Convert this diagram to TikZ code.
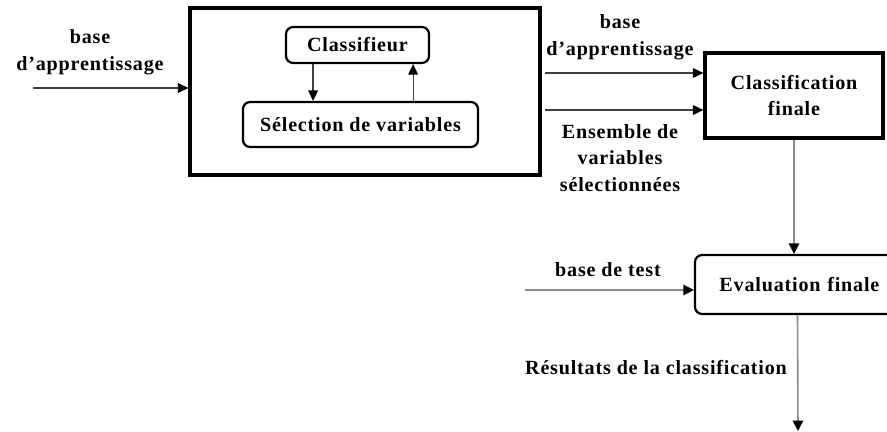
\documentclass[tikz,border=0pt]{standalone}
\usepackage{fontspec}
\setmainfont{Liberation Serif}[LetterSpace=4]
\usetikzlibrary{positioning, arrows.meta}

\begin{document}
\begin{tikzpicture}
    [
        x=0.025cm, y=-0.025cm, auto,
        every node/.style={font=\bfseries\fontsize{14.3pt}{19pt}\selectfont, align=center},
        big_box/.style={rectangle, draw=black, line width=0.8mm, minimum width=8.75cm, minimum height=4.175cm},
        round_box/.style={rectangle, rounded corners=1.8mm, draw=black, line width=0.55mm},
        flow_arrow/.style={-{Triangle[length=2.6mm, width=2.4mm, color=black]}, line width=0.3mm, color=black!75},
        grey_arrow/.style={-{Triangle[length=2.6mm, width=2.6mm, color=black]}, line width=0.4mm, color=black!45},
    ]
        \clip (0,0) rectangle (887,432) ;
        % selection de variables
        \node[big_box] (learn) at (365,91.5) {} ;
        \node[round_box, minimum width=3.575cm, minimum height=0.9cm] (clf) at (357.5,45) {Classifieur} ;
        \node[round_box, minimum width=5.875cm, minimum height=1.125cm] (sel) at (360.5,124.5) {S\'election de variables} ;
        % classification et evaluation
        \node[big_box, minimum width=4.45cm, minimum height=2.125cm] (final) at (794,95.5) {Classification\\finale} ;
        \node[round_box, minimum width=5.125cm, minimum height=1.475cm, text width=4.6cm, align=left] (eval) at (797.5,284.5) {\hspace*{0.35cm}Evaluation finale} ;
        % labels
        \node (trainlbl) at (90,52) {base\\d'apprentissage} ;
        \node (trainlbl2) at (620,37) {base\\d'apprentissage} ;
        \node (varlbl) at (620,158) {Ensemble de\\variables\\s\'electionn\'ees} ;
        \node (testlbl) at (608,270) {base de test} ;
        \node (reslbl) at (656,368) {R\'esultats de la classification} ;
        % free ends
        \coordinate (in1) at (33,88) ;
        \coordinate (in2) at (545,73) ;
        \coordinate (in3) at (545,110) ;
        \coordinate (in4) at (525,290) ;
        \coordinate (out) at (798,431) ;
        \draw[flow_arrow] (in1) -- (in1 -| learn.west) ;
        \draw[flow_arrow] ([xshift=-1.11cm]clf.south) -- ([xshift=-1.11cm]clf.south |- sel.north) ;
        \draw[flow_arrow] ([xshift=1.39cm]clf.south |- sel.north) -- ([xshift=1.39cm]clf.south) ;
        \draw[flow_arrow] (in2) -- (in2 -| final.west) ;
        \draw[flow_arrow] (in3) -- (in3 -| final.west) ;
        \draw[grey_arrow] (final.south) -- (final.south |- eval.north) ;
        \draw[grey_arrow] (in4) -- (in4 -| eval.west) ;
        \draw[grey_arrow] (eval.south) -- (out) ;
    \end{tikzpicture}
\end{document}
